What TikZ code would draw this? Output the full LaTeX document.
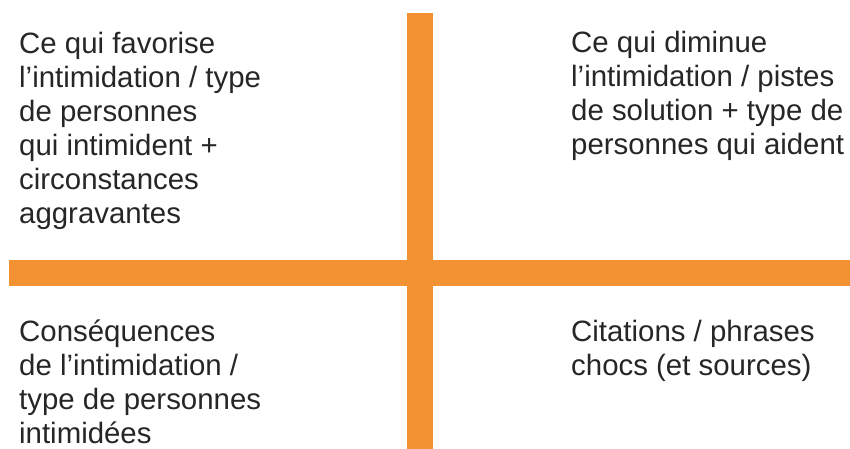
\documentclass[tikz,border=0pt]{standalone}
\usepackage{fontspec}
\setmainfont{Liberation Sans}
\definecolor{barorange}{RGB}{242,146,51}
\begin{document}
\begin{tikzpicture}[x=1pt,y=-1pt,
  bar/.style={fill=barorange,draw=none},
  quad/.style={anchor=base west,align=left,inner sep=0pt,font=\fontsize{29.4}{34}\selectfont,text=black!85}]
\useasboundingbox (0,0) rectangle (850,449);
\fill[bar] (407,13) rectangle (433,449);
\fill[bar] (9,260) rectangle (850,286);
% base anchor = baseline of the last line
\node[quad] (tl) at (19,223) {Ce qui favorise\\l’intimidation / type\\de personnes\\qui intimident +\\circonstances\\aggravantes};
\node[quad] (tr) at (571,155) {Ce qui diminue\\l’intimidation / pistes\\de solution + type de\\personnes qui aident};
\node[quad] (bl) at (19,443) {Conséquences\\de l’intimidation /\\type de personnes\\intimidées};
\node[quad] (br) at (571,375) {Citations / phrases\\chocs (et sources)};
\end{tikzpicture}
\end{document}
